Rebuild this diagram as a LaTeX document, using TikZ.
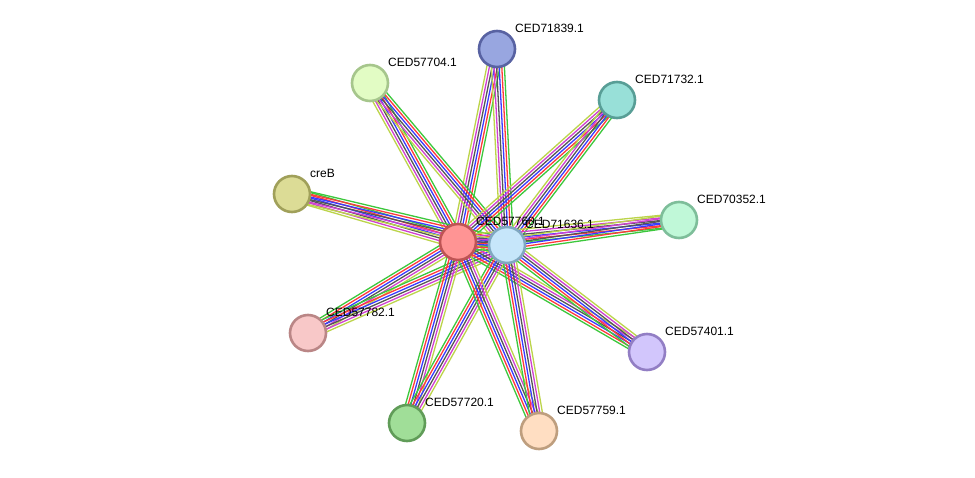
\documentclass[tikz,border=0pt]{standalone}
\usepackage{fontspec}
\setmainfont{Liberation Sans}
\usetikzlibrary{calc}
\pgfdeclarelayer{bg}
\pgfdeclarelayer{edges}
\pgfsetlayers{bg,edges,main}
\definecolor{eGreen}{HTML}{3CC83C}
\definecolor{eRed}{HTML}{FF3A3A}
\definecolor{eBlue}{HTML}{3A3AFF}
\definecolor{eBlack}{HTML}{555555}
\definecolor{eMag}{HTML}{D040D0}
\definecolor{eYel}{HTML}{BCD44A}
\tikzset{
  prot/.style={circle, minimum size=36pt, inner sep=0pt, line width=2.6pt},
  lbl/.style={anchor=west, inner sep=0pt, font=\fontsize{12pt}{14pt}\selectfont, text=black},
  eline/.style={line width=1.3pt}
}
\newcommand\bundle[2]{%
  \foreach \c [count=\i] in {eGreen,eRed,eBlue,eBlack,eMag,eYel}{%
    \pgfmathsetlengthmacro\off{(\i-3.5)*2.6pt}%
    \draw[eline,\c] ($(#1.center)!\off!90:(#2.center)$) -- ($(#2.center)!\off!-90:(#1.center)$);
  }%
}
\begin{document}
\begin{tikzpicture}[x=1pt,y=-1pt]
\useasboundingbox (0,0) rectangle (975,477);
\begin{pgfonlayer}{bg}
\fill[white] (0,0) rectangle (975,477);
\end{pgfonlayer}
% nodes
\node[prot, fill={rgb,255:red,152;green,166;blue,224}, draw={rgb,255:red,88;green,98;blue,162}] (n71839) at (497,49) {};
\node[lbl] at (515,28) {CED71839.1};
\node[prot, fill={rgb,255:red,226;green,252;blue,196}, draw={rgb,255:red,166;green,198;blue,140}] (n57704) at (370,83) {};
\node[lbl] at (388,62) {CED57704.1};
\node[prot, fill={rgb,255:red,152;green,224;blue,216}, draw={rgb,255:red,88;green,158;blue,150}] (n71732) at (617,100) {};
\node[lbl] at (635,79) {CED71732.1};
\node[prot, fill={rgb,255:red,220;green,220;blue,150}, draw={rgb,255:red,160;green,160;blue,90}] (ncreB) at (292,194) {};
\node[lbl] at (310,173) {creB};
\node[prot, fill={rgb,255:red,192;green,248;blue,216}, draw={rgb,255:red,126;green,190;blue,154}] (n70352) at (679,220) {};
\node[lbl] at (697,199) {CED70352.1};
\node[prot, fill={rgb,255:red,248;green,200;blue,200}, draw={rgb,255:red,186;green,134;blue,134}] (n57782) at (308,333) {};
\node[lbl] at (326,312) {CED57782.1};
\node[prot, fill={rgb,255:red,210;green,198;blue,252}, draw={rgb,255:red,146;green,126;blue,196}] (n57401) at (647,352) {};
\node[lbl] at (665,331) {CED57401.1};
\node[prot, fill={rgb,255:red,160;green,222;blue,152}, draw={rgb,255:red,96;green,156;blue,88}] (n57720) at (407,423) {};
\node[lbl] at (425,402) {CED57720.1};
\node[prot, fill={rgb,255:red,255;green,222;blue,194}, draw={rgb,255:red,190;green,158;blue,126}] (n57759) at (539,431) {};
\node[lbl] at (557,410) {CED57759.1};
\node[prot, fill={rgb,255:red,255;green,148;blue,148}, draw={rgb,255:red,190;green,84;blue,84}] (n57760) at (458,242) {};
\node[lbl] at (476,221) {CED57760.1};
\node[prot, fill={rgb,255:red,198;green,230;blue,250}, draw={rgb,255:red,128;green,168;blue,192}] (n71636) at (507,245) {};
\node[lbl] at (525,224) {CED71636.1};
% edges
\begin{pgfonlayer}{edges}
\foreach \p in {n71839,n57704,n71732,ncreB,n70352,n57782,n57401,n57720,n57759}{%
  \bundle{n57760}{\p}
  \bundle{n71636}{\p}
}
\bundle{n57760}{n71636}
\end{pgfonlayer}
\end{tikzpicture}
\end{document}
